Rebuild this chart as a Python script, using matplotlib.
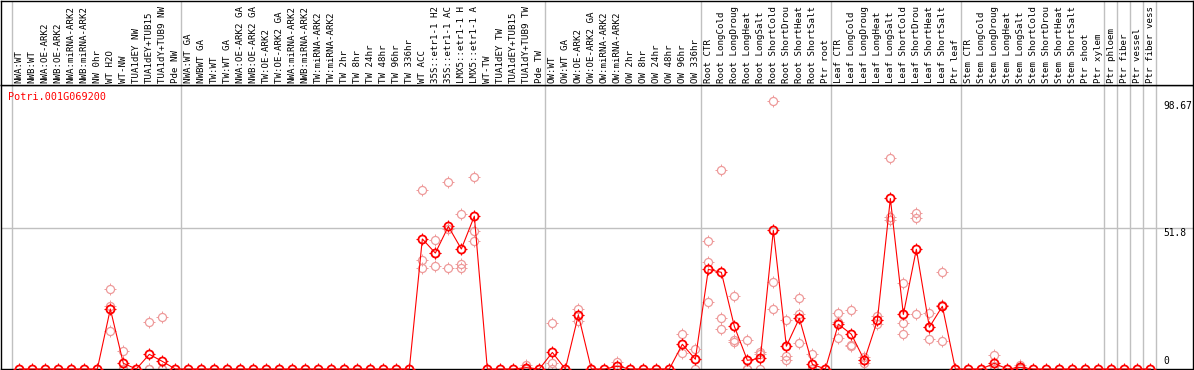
import matplotlib
matplotlib.use('Agg')
import matplotlib.pyplot as plt
import matplotlib.transforms as mtransforms
from matplotlib.path import Path

gene = 'Potri.001G069200'

# sample labels, one list per group (separated by grey lines)
# (header only shows the first 14 characters)
groups = [
    ["NWA:WT", "NWB:WT", "NWA:OE-ARK2", "NWB:OE-ARK2", "NWA:miRNA-ARK2",
     "NWB:miRNA-ARK2", "NW 0hr", "WT H2O", "WT-NW", "TUA1dEY NW",
     "TUA1dEY+TUB15", "TUA1dY+TUB9 NW", "Pde NW"],
    ["NWA:WT GA", "NWBWT GA", "TW:WT", "TW:WT GA", "NWA:OE-ARK2 GA",
     "NWB:OE-ARK2 GA", "TW:OE-ARK2", "TW:OE-ARK2 GA", "NWA:miRNA-ARK2",
     "NWB:miRNA-ARK2", "TW:miRNA-ARK2", "TW:miRNA-ARK2", "TW 2hr",
     "TW 8hr", "TW 24hr", "TW 48hr", "TW 96hr", "TW 336hr", "WT ACC",
     "35S::etr1-1 H2", "35S::etr1-1 AC", "LMX5::etr1-1 H",
     "LMX5::etr1-1 A", "WT-TW", "TUA1dEY TW", "TUA1dEY+TUB15",
     "TUA1dY+TUB9 TW", "Pde TW"],
    ["OW:WT", "OW:WT GA", "OW:OE-ARK2", "OW:OE-ARK2 GA", "OW:miRNA-ARK2",
     "OW:miRNA-ARK2", "OW 2hr", "OW 8hr", "OW 24hr", "OW 48hr", "OW 96hr",
     "OW 336hr"],
    ["Root CTR", "Root LongCold", "Root LongDroug", "Root LongHeat",
     "Root LongSalt", "Root ShortCold", "Root ShortDrou", "Root ShortHeat",
     "Root ShortSalt", "Ptr root"],
    ["Leaf CTR", "Leaf LongCold", "Leaf LongDroug", "Leaf LongHeat",
     "Leaf LongSalt", "Leaf ShortCold", "Leaf ShortDrou", "Leaf ShortHeat",
     "Leaf ShortSalt", "Ptr leaf"],
    ["Stem CTR", "Stem LongCold", "Stem LongDroug", "Stem LongHeat",
     "Stem LongSalt", "Stem ShortCold", "Stem ShortDrou", "Stem ShortHeat",
     "Stem ShortSalt", "Ptr shoot", "Ptr xylem"],
    ["Ptr phloem"],
    ["Ptr fiber"],
    ["Ptr vessel"],
    ["Ptr fiber vess"],
]

# mean expression per sample
means = [0, 0, 0, 0, 0, 0, 0, 22.1, 2.1, 0, 5.4, 2.8, 0,
         0, 0, 0, 0, 0, 0, 0, 0, 0, 0, 0, 0, 0, 0, 0, 0, 0, 0,
         47.9, 42.7, 52.5, 44.2, 56.3, 0, 0, 0, 0.5, 0,
         6.1, 0, 19.9, 0, 0, 1.0, 0, 0, 0, 0, 9.1, 3.6,
         36.7, 35.6, 15.7, 3.2, 3.9, 51.1, 8.4, 18.7, 1.7, 0,
         16.5, 12.8, 3.2, 17.9, 62.8, 20.1, 44.1, 15.4, 23.1, 0,
         0, 0, 2.1, 0, 0.6, 0, 0, 0, 0, 0, 0,
         0, 0, 0, 0]

# replicate values (sample index -> replicates)
rep_index = [7, 8, 10, 11, 31, 32, 33, 34, 35, 39, 41, 43, 46, 51, 52,
             53, 54, 55, 56, 57, 58, 59, 60, 61, 63, 64, 65, 66, 67, 68,
             69, 70, 71, 75, 77]
rep_values = [[29.3, 23.3, 14.0], [6.6, 0, 0], [17.2, 0, 0], [19.0, 0, 0],
              [65.8, 40.0, 37.1], [47.4, 42.9, 37.8], [68.7, 51.5, 37.1],
              [57.0, 38.5, 37.1], [70.6, 50.7, 47.0], [1.5, 0, 0],
              [16.8, 2.2, 0], [22.1, 20.0, 17.6], [2.6, 0, 0], [12.9, 5.8],
              [7.3, 0], [47.0, 39.3, 24.6], [73.2, 18.7, 14.7],
              [26.8, 10.6, 9.8], [10.6, 0, 0], [6.1, 5.5, 0],
              [98.67, 31.9, 22.0], [17.9, 4.7, 3.2], [26.0, 20.1, 9.5],
              [5.4, 0, 0], [20.5, 17.2, 11.3], [21.6, 8.7, 8.4],
              [4.3, 3.2, 2.1], [19.4, 17.9, 16.5], [77.6, 55.9, 54.9],
              [31.6, 16.8, 12.8], [57.3, 55.5, 20.1], [20.5, 15.4, 10.9],
              [35.6, 23.5, 10.2], [5.0, 1.0, 0], [1.4, 0.5, 0]]

ytick_vals = [98.67, 51.8, 0]
ytick_text = ['98.67', '51.8', '0']

labels = [s for g in groups for s in g]
xs = list(range(len(labels)))

# group boundaries
seps = []
n = 0
for g in groups:
    seps.append(n - 0.6)
    n += len(g)
seps.append(n - 0.6)

# four little ticks around each circle
stub = Path([(0, 1), (0, 1.4), (0, -1), (0, -1.4),
             (1, 0), (1.4, 0), (-1, 0), (-1.4, 0)],
            [Path.MOVETO, Path.LINETO] * 4)

W, H = 1194, 370
fig = plt.figure(figsize=(W / 100, H / 100), dpi=100)
ax = fig.add_axes([1 / W, 1 / H, 1192 / W, 284 / H])
axh = fig.add_axes([1 / W, 285 / H, 1192 / W, 84.5 / H], sharex=ax)

ax.set_xlim(-1.41, 90.28)
ax.set_ylim(0, 104.6)
axh.set_ylim(0, 1)

for a in (ax, axh):
    a.set_xticks([])
    a.set_yticks([])
    for s in a.spines.values():
        s.set_color('black')
        s.set_linewidth(1)
    for x in seps:
        a.axvline(x, color='#c0c0c0', lw=1, zorder=0)

ax.axhline(51.8, color='#c0c0c0', lw=1, zorder=0)

# replicates
for i, vals in zip(rep_index, rep_values):
    ax.plot([i] * len(vals), vals, linestyle='none', marker='o', ms=5.8,
            mfc='none', mec='#ee9a9a', mew=0.9, clip_on=False, zorder=2)
    ax.plot([i] * len(vals), vals, linestyle='none', marker=stub, ms=8.2,
            mec='#ee9a9a', mew=0.7, clip_on=False, zorder=2)

# means
ax.plot(xs, means, color='#ff0000', lw=0.8, marker='o', ms=5.8, mfc='none',
        mec='#ff0000', mew=1.3, clip_on=False, zorder=3)
ax.plot(xs, means, linestyle='none', marker=stub, ms=8.4,
        mec='#ff0000', mew=0.8, clip_on=False, zorder=3)

# sample labels
trans = mtransforms.blended_transform_factory(axh.transData, axh.transAxes)
for i, lab in enumerate(labels):
    axh.text(i, 0.02, lab, rotation=90, ha='center', va='bottom',
             family='DejaVu Sans Mono', fontsize=6.6, transform=trans,
             clip_on=True)

fig.text(8 / W, 1 - 97 / H, gene, color='#ff0000', family='DejaVu Sans Mono',
         fontsize=7.3, va='center', ha='left')

for v, t in zip(ytick_vals, ytick_text):
    if v == 0:
        ax.text(88.0, 1.2, t, family='DejaVu Sans Mono', fontsize=6.9,
                ha='left', va='bottom')
    else:
        ax.text(88.0, v, t, family='DejaVu Sans Mono', fontsize=6.9,
                ha='left', va='top')

fig.savefig('out.png', dpi=100)
